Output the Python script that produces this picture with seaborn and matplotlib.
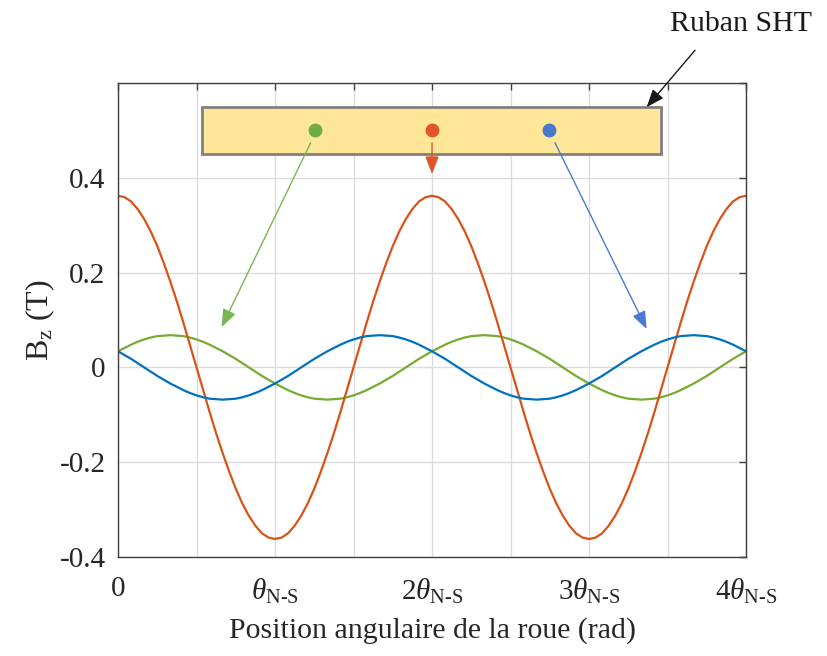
import numpy as np
import pandas as pd
import matplotlib
matplotlib.use("Agg")
import matplotlib.pyplot as plt
import seaborn as sns
from matplotlib.patches import Rectangle

# ---- data (x in units of theta_N-S, step theta/24) ----
x_pos = [k / 24 for k in range(97)]
bz_center = [0.362, 0.359, 0.350, 0.334, 0.313, 0.287, 0.256, 0.220, 0.181, 0.139, 0.094, 0.047,
             0.000, -0.047, -0.094, -0.139, -0.181, -0.220, -0.256, -0.287, -0.313, -0.334, -0.350, -0.359,
             -0.362, -0.359, -0.350, -0.334, -0.313, -0.287, -0.256, -0.220, -0.181, -0.139, -0.094, -0.047,
             0.000, 0.047, 0.094, 0.139, 0.181, 0.220, 0.256, 0.287, 0.313, 0.334, 0.350, 0.359,
             0.362, 0.359, 0.350, 0.334, 0.313, 0.287, 0.256, 0.220, 0.181, 0.139, 0.094, 0.047,
             0.000, -0.047, -0.094, -0.139, -0.181, -0.220, -0.256, -0.287, -0.313, -0.334, -0.350, -0.359,
             -0.362, -0.359, -0.350, -0.334, -0.313, -0.287, -0.256, -0.220, -0.181, -0.139, -0.094, -0.047,
             0.000, 0.047, 0.094, 0.139, 0.181, 0.220, 0.256, 0.287, 0.313, 0.334, 0.350, 0.359,
             0.362]
bz_right = [0.034, 0.026, 0.018, 0.009, 0.000, -0.009, -0.018, -0.026, -0.034, -0.041, -0.048, -0.054,
            -0.059, -0.063, -0.066, -0.067, -0.068, -0.067, -0.066, -0.063, -0.059, -0.054, -0.048, -0.041,
            -0.034, -0.026, -0.018, -0.009, 0.000, 0.009, 0.018, 0.026, 0.034, 0.041, 0.048, 0.054,
            0.059, 0.063, 0.066, 0.067, 0.068, 0.067, 0.066, 0.063, 0.059, 0.054, 0.048, 0.041,
            0.034, 0.026, 0.018, 0.009, 0.000, -0.009, -0.018, -0.026, -0.034, -0.041, -0.048, -0.054,
            -0.059, -0.063, -0.066, -0.067, -0.068, -0.067, -0.066, -0.063, -0.059, -0.054, -0.048, -0.041,
            -0.034, -0.026, -0.018, -0.009, 0.000, 0.009, 0.018, 0.026, 0.034, 0.041, 0.048, 0.054,
            0.059, 0.063, 0.066, 0.067, 0.068, 0.067, 0.066, 0.063, 0.059, 0.054, 0.048, 0.041,
            0.034]
bz_left = [0.034, 0.041, 0.048, 0.054, 0.059, 0.063, 0.066, 0.067, 0.068, 0.067, 0.066, 0.063,
           0.059, 0.054, 0.048, 0.041, 0.034, 0.026, 0.018, 0.009, 0.000, -0.009, -0.018, -0.026,
           -0.034, -0.041, -0.048, -0.054, -0.059, -0.063, -0.066, -0.067, -0.068, -0.067, -0.066, -0.063,
           -0.059, -0.054, -0.048, -0.041, -0.034, -0.026, -0.018, -0.009, 0.000, 0.009, 0.018, 0.026,
           0.034, 0.041, 0.048, 0.054, 0.059, 0.063, 0.066, 0.067, 0.068, 0.067, 0.066, 0.063,
           0.059, 0.054, 0.048, 0.041, 0.034, 0.026, 0.018, 0.009, 0.000, -0.009, -0.018, -0.026,
           -0.034, -0.041, -0.048, -0.054, -0.059, -0.063, -0.066, -0.067, -0.068, -0.067, -0.066, -0.063,
           -0.059, -0.054, -0.048, -0.041, -0.034, -0.026, -0.018, -0.009, 0.000, 0.009, 0.018, 0.026,
           0.034]
series_names = ["gauche", "centre", "droite"]
x_ticks = [0, 0.5, 1, 1.5, 2, 2.5, 3, 3.5, 4]
x_tick_labels = ["0", "", r"$\theta_{\mathrm{N\text{-}S}}$", "", r"$2\theta_{\mathrm{N\text{-}S}}$", "",
                 r"$3\theta_{\mathrm{N\text{-}S}}$", "", r"$4\theta_{\mathrm{N\text{-}S}}$"]
y_ticks = [-0.4, -0.2, 0, 0.2, 0.4, 0.6]
y_tick_labels = ["-0.4", "-0.2", "0", "0.2", "0.4", ""]

n = len(x_pos)
df = pd.DataFrame({
    "x": x_pos * 3,
    "Bz": bz_left + bz_center + bz_right,
    "capteur": [series_names[0]] * n + [series_names[1]] * n + [series_names[2]] * n,
})

sns.set_theme(style="white")
plt.rcParams["font.family"] = ["Liberation Serif", "DejaVu Serif"]
plt.rcParams["mathtext.fontset"] = "custom"
plt.rcParams["mathtext.rm"] = "Liberation Serif"
plt.rcParams["mathtext.it"] = "Liberation Serif:italic"

fig = plt.figure(figsize=(8.27, 6.56), dpi=100)
ax = fig.add_axes([0.1427, 0.1509, 0.7594, 0.7226])

palette = {"gauche": "#77AC30", "centre": "#D95319", "droite": "#0072BD"}
sns.lineplot(data=df, x="x", y="Bz", hue="capteur", palette=palette, linewidth=1.6,
             legend=False, ax=ax, sort=False)

ax.set_xlim(0, 4)
ax.set_ylim(-0.4, 0.6)
ax.set_xticks(x_ticks)
ax.set_xticklabels(x_tick_labels)
ax.set_yticks(y_ticks)
ax.set_yticklabels(y_tick_labels)
ax.grid(True, color="#DCDCDC", linewidth=1.0)
ax.set_axisbelow(True)
for s in ax.spines.values():
    s.set_color("#404040")
    s.set_linewidth(1.0)
ax.tick_params(direction="in", top=True, right=True, length=5, width=1, color="#404040",
               labelsize=21, labelcolor="#262626")
ax.tick_params(axis="x", pad=14)
ax.tick_params(axis="y", pad=9)
ax.set_xlabel("Position angulaire de la roue (rad)", fontsize=21.5, color="#262626", labelpad=8)
ax.set_ylabel(r"$\mathrm{B_z}$ (T)", fontsize=23, color="#262626", labelpad=2)

# ruban SHT
ax.add_patch(Rectangle((0.535, 0.451), 3.456 - 0.535, 0.098, facecolor="#FFE699",
                       edgecolor="#808080", linewidth=2, zorder=5))
dots_x = [1.255, 2.0, 2.745]
dot_colors = ["#6DAD45", "#E0562A", "#4479CC"]
for dx, dc in zip(dots_x, dot_colors):
    ax.plot(dx, 0.5, "o", color=dc, markersize=9, zorder=6)

arrows = [((1.227, 0.474), (0.66, 0.085), "#7AB554"),
          ((2.0, 0.474), (2.0, 0.408), "#E0562A"),
          ((2.783, 0.474), (3.367, 0.081), "#4A7BD0")]
for start, end, col in arrows:
    ax.annotate("", xy=end, xytext=start,
                arrowprops=dict(arrowstyle="-|>,head_length=0.9,head_width=0.35", color=col,
                                lw=1.0, shrinkA=0, shrinkB=0), zorder=7)

ax.annotate("", xy=(3.367, 0.549), xytext=(3.675, 0.669), annotation_clip=False,
            arrowprops=dict(arrowstyle="-|>,head_length=0.9,head_width=0.35", color="#1A1A1A",
                            lw=1.0, shrinkA=0, shrinkB=0), zorder=7)
fig.text(0.896, 0.963, "Ruban SHT", fontsize=21.5, ha="center", va="center", color="#1A1A1A")

fig.savefig("out.png", dpi=100)
